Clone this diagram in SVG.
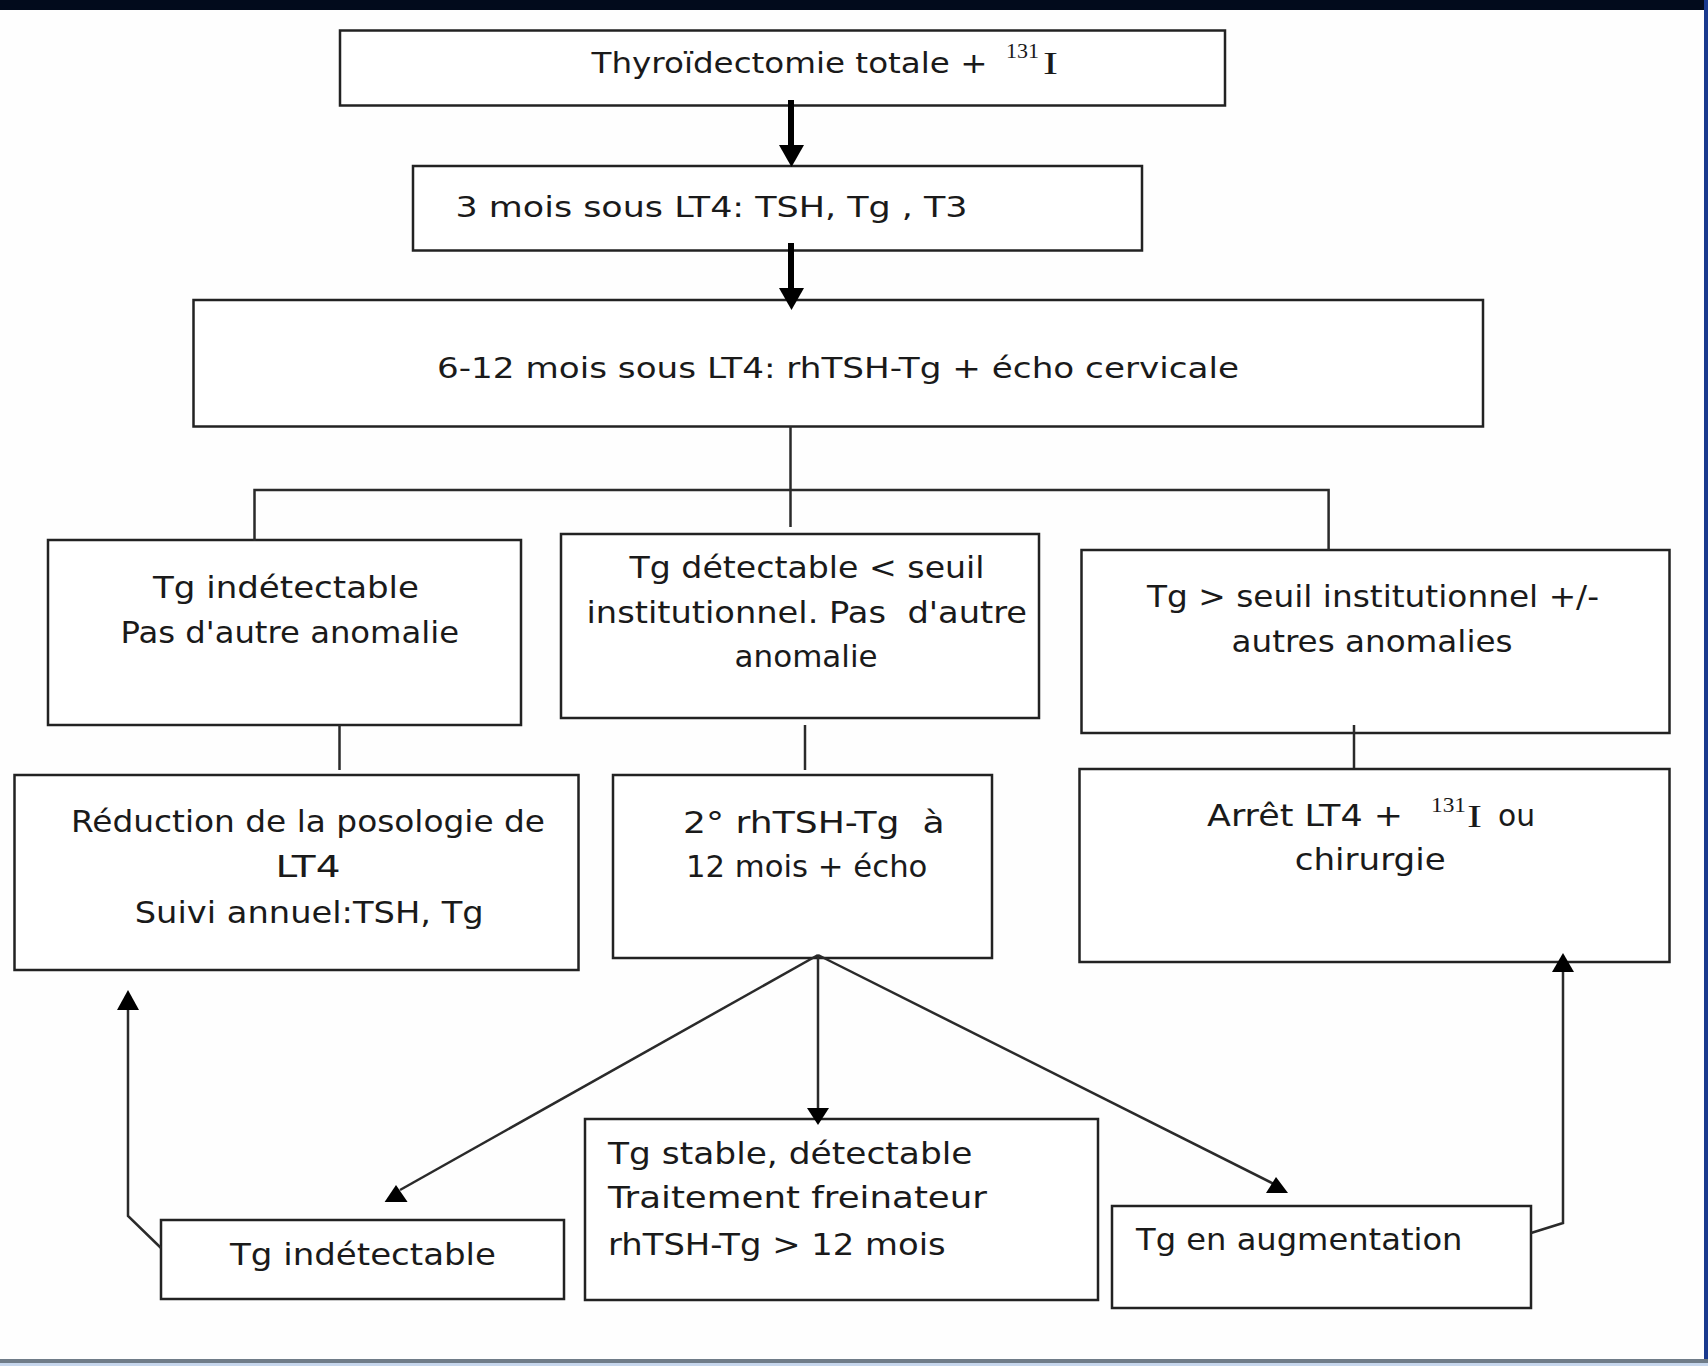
<svg xmlns="http://www.w3.org/2000/svg" width="1708" height="1366" viewBox="0 0 1708 1366">
<style>
.box{fill:#ffffff;stroke:#222;stroke-width:2.5}
.t{font-family:"DejaVu Sans","Liberation Sans",sans-serif;font-size:30px;fill:#1a1a1a;white-space:pre}
.tt{font-family:"DejaVu Sans","Liberation Sans",sans-serif;font-size:28px;fill:#1a1a1a;white-space:pre}
.s{font-family:"Liberation Serif",serif;fill:#1a1a1a}
.ln{fill:none;stroke:#2a2a2a;stroke-width:2.5}
.thick{fill:none;stroke:#000;stroke-width:6}
.ah{fill:#000}
</style>
<rect x="0" y="0" width="1708" height="1366" fill="#fefefe"/>
<rect x="0" y="0" width="1708" height="10" fill="#020b1c"/>
<rect x="1704" y="0" width="4" height="1366" fill="#1a3a8e"/>
<rect x="0" y="1359" width="1708" height="4" fill="#6f7c88"/>
<rect x="0" y="1363" width="1708" height="3" fill="#c6d6ec"/>

<g id="n1">
<rect class="box" x="340" y="30.5" width="885" height="75"/>
<text class="tt" x="591.5" y="73" textLength="396" lengthAdjust="spacingAndGlyphs">Thyroïdectomie totale +</text>
<text class="s" x="1006" y="58" font-size="20" textLength="33" lengthAdjust="spacingAndGlyphs">131</text>
<text class="s" x="1043" y="74" font-size="31" textLength="15" lengthAdjust="spacingAndGlyphs">I</text>
</g>

<g id="n2">
<rect class="box" x="413" y="166" width="729" height="84.5"/>
<text class="tt" x="455.5" y="217" textLength="512" lengthAdjust="spacingAndGlyphs">3 mois sous LT4: TSH, Tg , T3</text>
</g>

<g id="n3">
<rect class="box" x="193.5" y="300" width="1289.5" height="126.5"/>
<text class="tt" x="437" y="378" textLength="802" lengthAdjust="spacingAndGlyphs">6-12 mois sous LT4: rhTSH-Tg + écho cervicale</text>
</g>

<g id="n4">
<rect class="box" x="48" y="540" width="473" height="185"/>
<text class="t" x="153" y="598" textLength="266" lengthAdjust="spacingAndGlyphs">Tg indétectable</text>
<text class="t" x="120.5" y="643" textLength="338.5" lengthAdjust="spacingAndGlyphs">Pas d'autre anomalie</text>
</g>

<g id="n5">
<rect class="box" x="561" y="534" width="478" height="184"/>
<text class="t" x="629.5" y="578" textLength="355" lengthAdjust="spacingAndGlyphs">Tg détectable &lt; seuil</text>
<text class="t" x="586.5" y="623" textLength="440.5" lengthAdjust="spacingAndGlyphs">institutionnel. Pas  d'autre</text>
<text class="t" x="734.6" y="667" textLength="143" lengthAdjust="spacingAndGlyphs">anomalie</text>
</g>

<g id="n6">
<rect class="box" x="1081.5" y="550" width="588" height="183"/>
<text class="t" x="1147" y="607" textLength="452" lengthAdjust="spacingAndGlyphs">Tg &gt; seuil institutionnel +/-</text>
<text class="t" x="1231.5" y="652" textLength="281" lengthAdjust="spacingAndGlyphs">autres anomalies</text>
</g>

<g id="n7">
<rect class="box" x="14.5" y="775" width="564" height="195"/>
<text class="t" x="71" y="832" textLength="474" lengthAdjust="spacingAndGlyphs">Réduction de la posologie de</text>
<text class="t" x="275.5" y="877" textLength="65" lengthAdjust="spacingAndGlyphs">LT4</text>
<text class="t" x="134.7" y="923" textLength="349" lengthAdjust="spacingAndGlyphs">Suivi annuel:TSH, Tg</text>
</g>

<g id="n8">
<rect class="box" x="613" y="775" width="379" height="183"/>
<text class="t" x="683" y="833" textLength="261.6" lengthAdjust="spacingAndGlyphs">2° rhTSH-Tg  à</text>
<text class="t" x="686" y="877" textLength="241.4" lengthAdjust="spacingAndGlyphs">12 mois + écho</text>
</g>

<g id="n9">
<rect class="box" x="1079.5" y="769" width="590" height="193"/>
<text class="t" x="1207" y="826" textLength="196" lengthAdjust="spacingAndGlyphs">Arrêt LT4 +</text>
<text class="s" x="1431" y="812" font-size="22" textLength="35" lengthAdjust="spacingAndGlyphs">131</text>
<text class="s" x="1467" y="827" font-size="31" textLength="15" lengthAdjust="spacingAndGlyphs">I</text>
<text class="t" x="1498" y="826" textLength="37" lengthAdjust="spacingAndGlyphs">ou</text>
<text class="t" x="1294.7" y="870" textLength="151" lengthAdjust="spacingAndGlyphs">chirurgie</text>
</g>

<g id="n10">
<rect class="box" x="161" y="1220" width="403" height="79"/>
<text class="t" x="230" y="1265" textLength="266" lengthAdjust="spacingAndGlyphs">Tg indétectable</text>
</g>

<g id="n11">
<rect class="box" x="585" y="1119" width="513" height="181"/>
<text class="t" x="608" y="1164" textLength="364.5" lengthAdjust="spacingAndGlyphs">Tg stable, détectable</text>
<text class="t" x="608" y="1208" textLength="379" lengthAdjust="spacingAndGlyphs">Traitement freinateur</text>
<text class="t" x="608" y="1255" textLength="337.7" lengthAdjust="spacingAndGlyphs">rhTSH-Tg &gt; 12 mois</text>
</g>

<g id="n12">
<rect class="box" x="1112" y="1206" width="419" height="102"/>
<text class="t" x="1136" y="1250" textLength="326.5" lengthAdjust="spacingAndGlyphs">Tg en augmentation</text>
</g>

<g id="connectors">
<line class="thick" x1="791" y1="100" x2="791" y2="148"/>
<polygon class="ah" points="779,145 804,145 791.5,167"/>
<line class="thick" x1="791" y1="243" x2="791" y2="291"/>
<polygon class="ah" points="779,288 804,288 791.5,310"/>
<line class="ln" x1="790.5" y1="426" x2="790.5" y2="527"/>
<polyline class="ln" points="254.5,541 254.5,490 1328.6,490 1328.6,550"/>
<line class="ln" x1="339.5" y1="725" x2="339.5" y2="770"/>
<line class="ln" x1="805" y1="725" x2="805" y2="770"/>
<line class="ln" x1="1354" y1="725" x2="1354" y2="768"/>
<line class="ln" x1="818" y1="955" x2="400" y2="1190"/>
<polygon class="ah" points="384.6,1202 407.6,1202 396,1185"/>
<line class="ln" x1="818" y1="955" x2="818" y2="1110"/>
<polygon class="ah" points="807,1108 829,1108 818,1125"/>
<line class="ln" x1="818" y1="955" x2="1274" y2="1184"/>
<polygon class="ah" points="1266,1193 1288,1193 1276,1177"/>
<polyline class="ln" points="161,1248 128,1216 128,1008"/>
<polygon class="ah" points="117,1010 139,1010 128,990"/>
<polyline class="ln" points="1531,1233 1563,1223 1563,970"/>
<polygon class="ah" points="1552,972 1574,972 1563,953"/>
</g>
</svg>
